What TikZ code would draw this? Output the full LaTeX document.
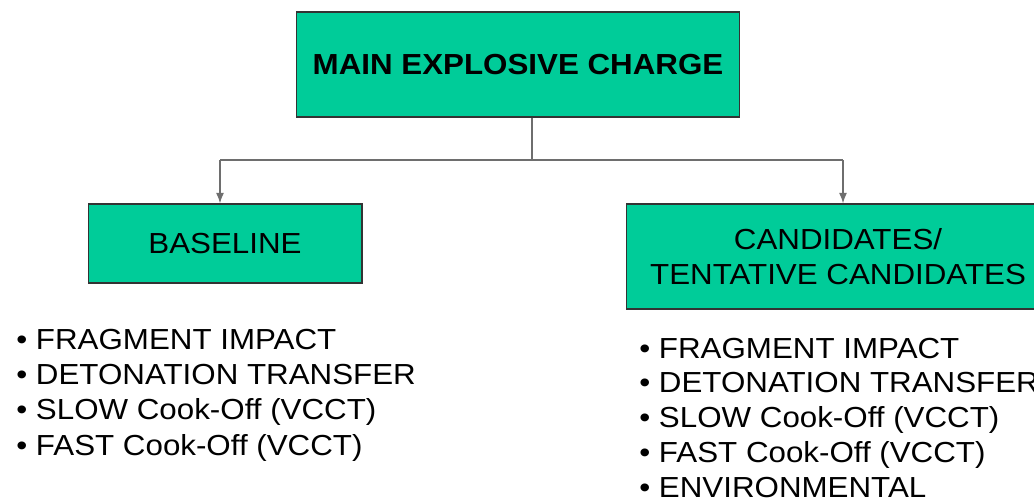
\documentclass[tikz,border=0pt]{standalone}
\usepackage{fontspec}
\setmainfont{Liberation Sans}[FakeStretch=1.08]
\usepackage{tikz}
\usetikzlibrary{arrows.meta}
\definecolor{boxgreen}{RGB}{0,204,153}
\definecolor{linegray}{RGB}{110,110,110}

\begin{document}
\begin{tikzpicture}[x=0.02cm, y=-0.02cm,
			chargebox/.style={draw=black!80, fill=boxgreen, line width=0.6pt, align=center, inner sep=0pt, font=\fontsize{16.5}{19.7pt}\selectfont},
			itemline/.style={anchor=base west, inner sep=0pt, font=\fontsize{16.5}{20pt}\selectfont},
			link/.style={draw=linegray, line width=0.8pt}]
			
			\useasboundingbox (0,0) rectangle (1034,501);
			\clip (0,0) rectangle (1034,501);
			
			% Define the boxes
			\node[chargebox, minimum width=8.88cm, minimum height=2.1cm, font=\fontsize{16.5}{19.7pt}\selectfont\bfseries] (main) at (518, 64.5) {MAIN EXPLOSIVE CHARGE};
			\node[chargebox, minimum width=5.48cm, minimum height=1.58cm] (base) at (225, 243.5) {BASELINE};
			\node[chargebox, minimum width=8.48cm, minimum height=2.1cm] (cand) at (838, 256.5) {CANDIDATES/\\TENTATIVE CANDIDATES};
			
			% Define the points of the connector
			\coordinate (split) at (532, 160);
			\coordinate (leftend) at (220, 160);
			\coordinate (rightend) at (843, 160);
			
			% Draw the connector
			\draw[link] (split |- main.south) -- (split);
			\draw[link] (leftend) -- (rightend);
			\draw[link, -{Latex[length=6pt, width=4.5pt]}] (leftend) -- (leftend |- base.north);
			\draw[link, -{Latex[length=6pt, width=4.5pt]}] (rightend) -- (rightend |- cand.north);
			
			% Define the items under the baseline
			\node[itemline] (B1) at (16, 349) {• FRAGMENT IMPACT};
			\node[itemline] (B2) at (16, 384.3) {• DETONATION TRANSFER};
			\node[itemline] (B3) at (16, 419.6) {• SLOW Cook-Off (VCCT)};
			\node[itemline] (B4) at (16, 455) {• FAST Cook-Off (VCCT)};
			
			% Define the items under the candidates
			\node[itemline] (C1) at (639, 358) {• FRAGMENT IMPACT};
			\node[itemline] (C2) at (639, 392.75) {• DETONATION TRANSFER};
			\node[itemline] (C3) at (639, 427.5) {• SLOW Cook-Off (VCCT)};
			\node[itemline] (C4) at (639, 462.25) {• FAST Cook-Off (VCCT)};
			\node[itemline] (C5) at (639, 497) {• ENVIRONMENTAL};
		\end{tikzpicture}
\end{document}
